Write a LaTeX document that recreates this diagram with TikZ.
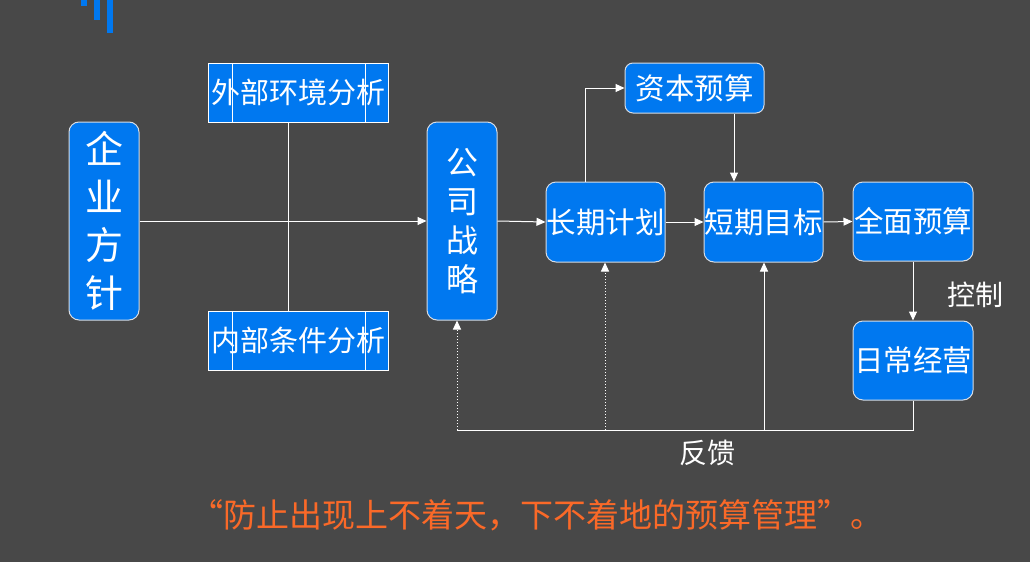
\documentclass[tikz,border=0pt]{standalone}
\usepackage{fontspec}
\setmainfont{Noto Sans CJK SC}
\usetikzlibrary{arrows.meta}
\definecolor{bg}{RGB}{72,72,72}
\definecolor{boxblue}{RGB}{0,120,240}
\definecolor{edgegray}{RGB}{215,220,228}
\definecolor{quoteorange}{RGB}{250,105,40}
\tikzset{
  rbox/.style={draw=edgegray, line width=1pt, fill=boxblue, rounded corners=10pt,
    text=white, inner sep=0pt, align=center, font=\fontsize{29.5}{31}\selectfont},
  pbox/.style={draw=white, line width=1pt, fill=boxblue, inner sep=0pt,
    text=white, font=\fontsize{29}{31}\selectfont,
    minimum width=180pt, minimum height=59pt},
  conn/.style={draw=white, line width=1pt},
  arr/.style={conn, -{Triangle[length=9pt,width=8pt]}},
  darr/.style={arr, dotted},
  lbl/.style={text=white, inner sep=0pt, font=\fontsize{28}{30}\selectfont}
}
\begin{document}
\begin{tikzpicture}[x=1pt,y=-1pt]
\fill[bg] (0,0) rectangle (1030,562);
\useasboundingbox (0,0) rectangle (1030,562);
% top-left bars
\fill[boxblue] (81,0) rectangle (87,6);
\fill[boxblue] (94,0) rectangle (100,20);
\fill[boxblue] (107,0) rectangle (113,33);

% nodes
\node[rbox, minimum width=70pt, minimum height=198pt, font=\fontsize{38}{48}\selectfont]
  (qy) at (104,221) {企\\业\\方\\针};
\node[rbox, minimum width=70pt, minimum height=198pt, font=\fontsize{32}{39}\selectfont]
  (gs) at (462,221) {公\\司\\战\\略};
\node[pbox] (ext) at (298,92.5) {外部环境分析};
\node[pbox] (int) at (298,340.5) {内部条件分析};
\draw[conn] (232,63) -- (232,122) (365,63) -- (365,122);
\draw[conn] (232,311) -- (232,370) (365,311) -- (365,370);
\node[rbox, minimum width=119pt, minimum height=80pt] (lt) at (605.5,222) {长期计划};
\node[rbox, minimum width=119pt, minimum height=80pt] (st) at (763.5,222) {短期目标};
\node[rbox, minimum width=139pt, minimum height=50pt, rounded corners=8pt] (cap) at (694.5,88) {资本预算};
\node[rbox, minimum width=120pt, minimum height=79pt] (qm) at (913,221.5) {全面预算};
\node[rbox, minimum width=120pt, minimum height=79pt] (rc) at (913,360.5) {日常经营};

% labels
\node[lbl] (kz) at (975,295) {控制};
\node[lbl] (fk) at (707,453) {反馈};
\node[text=quoteorange, inner sep=0pt, font=\fontsize{33}{35}\selectfont] (quote) at (537,515)
  {“防止出现上不着天，下不着地的预算管理”。};

% connectors
\draw[conn] ([xshift=-10pt]ext.south) -- ([xshift=-10pt]int.north);
\draw[arr] (qy.east) -- (gs.west);
\draw[arr] (gs.east) -- (lt.west);
\draw[arr] (lt.east) -- (st.west);
\draw[arr] (st.east) -- (qm.west);
\draw[arr] (qm.south) -- (rc.north);
\draw[arr] ([xshift=-20.5pt]lt.north) |- (cap.west);
\draw[arr] ([xshift=39.5pt]cap.south) -- ([xshift=-29.5pt]st.north);

% feedback
\coordinate (fbL) at (457,430);
\coordinate (fbM) at (605,430);
\coordinate (fbR) at (764,430);
\draw[conn] (rc.south) |- (fbL);
\draw[darr] (fbL) -- (fbL |- gs.south);
\draw[darr] (fbM) -- (fbM |- lt.south);
\draw[arr] (fbR) -- (fbR |- st.south);
\end{tikzpicture}
\end{document}
